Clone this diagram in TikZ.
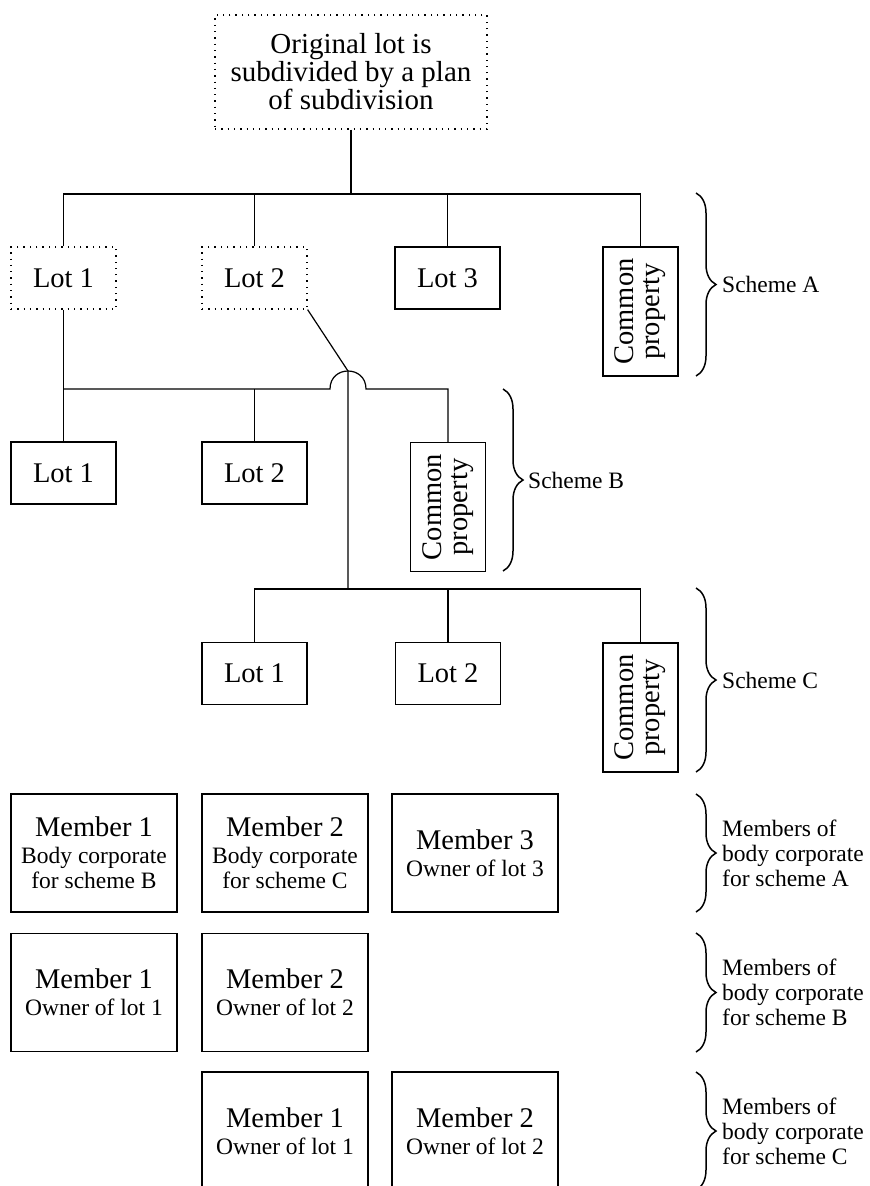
\documentclass[tikz,border=0pt]{standalone}
\usepackage{fontspec}
\setmainfont{Liberation Serif}
\usetikzlibrary{decorations.pathreplacing}

\tikzset{
    link/.style={line width=1.2pt},
    lotbox/.style={draw, line width=1.2pt, minimum width=105pt, minimum height=62pt, inner sep=0pt, font=\fontsize{28.5}{28}\selectfont},
    dotbox/.style={lotbox, dash pattern=on 1.3pt off 5pt},
    propbox/.style={lotbox, rotate=90, minimum width=129pt, minimum height=75pt, align=center, font=\fontsize{28.5}{26}\selectfont},
    memberbox/.style={draw, line width=1.2pt, minimum width=166pt, minimum height=118pt, inner sep=0pt, align=center, font=\fontsize{23.5}{25}\selectfont},
    curly/.style={decorate, decoration={brace, amplitude=20pt}, line width=1.5pt},
    schemelabel/.style={anchor=west, inner sep=0pt, align=left, font=\fontsize{23.5}{25}\selectfont},
}

\newcommand{\memtitle}[1]{{\fontsize{28.5}{28}\selectfont Member #1}\\[2pt]}

\begin{document}
\begin{tikzpicture}[x=1pt, y=-1pt]

        \useasboundingbox (0,0) rectangle (870,1186);

        % Original lot
        \node[dotbox, minimum width=272pt, minimum height=114pt, align=center, font=\fontsize{29}{28}\selectfont] (orig) at (351,72) {Original lot is\\subdivided by a plan\\of subdivision};

        % Scheme A
        \node[dotbox] (lotA1) at (63.5,278) {Lot 1};
        \node[dotbox] (lotA2) at (254.5,278) {Lot 2};
        \node[lotbox] (lotA3) at (447.5,278) {Lot 3};
        \node[propbox] (cpA) at (640.5,311.5) {Common\\property};

        % Scheme B
        \node[lotbox] (lotB1) at (63.5,473) {Lot 1};
        \node[lotbox] (lotB2) at (254.5,473) {Lot 2};
        \node[propbox] (cpB) at (448,507) {Common\\property};

        % Scheme C
        \node[lotbox] (lotC1) at (254.5,673.5) {Lot 1};
        \node[lotbox] (lotC2) at (448,673.5) {Lot 2};
        \node[propbox] (cpC) at (640.5,707.5) {Common\\property};

        % Connections
        \coordinate (busA) at (351,194);
        \coordinate (hopL) at (330,389);
        \coordinate (hopR) at (366,389);
        \coordinate (hop) at (348,371);
        \coordinate (busC) at (348,589);

        \draw[link] (orig) -- (busA);
        \draw[link] (lotA1.north) |- (busA) -| (cpA.east);
        \draw[link] (lotA2.north) -- (lotA2.north |- busA);
        \draw[link] (lotA3.north) -- (lotA3.north |- busA);

        \draw[link] (lotA1) -- (lotB1);
        \draw[link] (lotB1.north |- hopL) -- (hopL) .. controls +(0,-24) and +(0,-24) .. (hopR) -| (cpB.east);
        \draw[link] (lotB2.north) -- (lotB2.north |- hopL);
        \draw[link] (lotA2.south east) -- (hop) -- (busC);

        \draw[link] (lotC1.north) |- (busC) -| (cpC.east);
        \draw[link] (lotC2.north) -- (lotC2.north |- busC);

        % Members
        \node[memberbox] (memA1) at (94,853) {\memtitle{1}Body corporate\\for scheme B};
        \node[memberbox] (memA2) at (285,853) {\memtitle{2}Body corporate\\for scheme C};
        \node[memberbox] (memA3) at (475,853) {\memtitle{3}Owner of lot 3};
        \node[memberbox] (memB1) at (94,992.5) {\memtitle{1}Owner of lot 1};
        \node[memberbox] (memB2) at (285,992.5) {\memtitle{2}Owner of lot 2};
        \node[memberbox] (memC1) at (285,1131) {\memtitle{1}Owner of lot 1};
        \node[memberbox] (memC2) at (475,1131) {\memtitle{2}Owner of lot 2};

        % Braces
        \draw[curly] (696,193) -- (696,376);
        \draw[curly] (503,389) -- (503,571);
        \draw[curly] (696,588) -- (696,772);
        \node[schemelabel] (schA) at (722,284.5) {Scheme A};
        \node[schemelabel] (schB) at (528,480) {Scheme B};
        \node[schemelabel] (schC) at (722,680) {Scheme C};

        \foreach \s/\t/\b in {A/794/912, B/933/1052, C/1072/1190}{
            \draw[curly] (696,\t) -- (696,\b);
            \node[schemelabel] (bc\s) at (722,{(\t+\b)/2}) {Members of\\body corporate\\for scheme \s};
        }

\end{tikzpicture}
\end{document}
